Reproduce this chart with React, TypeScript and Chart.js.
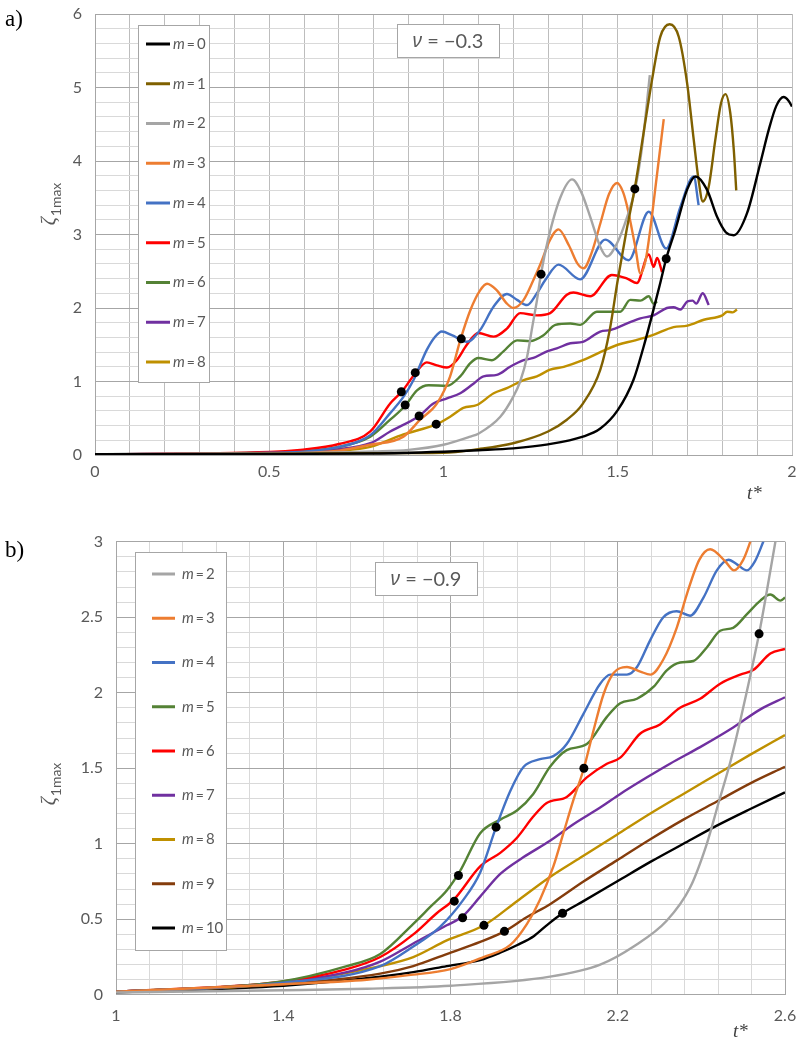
import { useEffect, useRef } from 'react';
import { Chart, registerables } from 'chart.js';

Chart.register(...registerables);

type Pt = [number, number];

// ---------------- Panel a) nu = -0.3 ----------------
const A_NAMES = ['0', '1', '2', '3', '4', '5', '6', '7', '8'];
const A_COLORS = ['#000000', '#7f6000', '#a5a5a5', '#ed7d31', '#4472c4', '#ff0000', '#548235', '#7030a0', '#bf9000'];

const A_M0: Pt[] = [[0,0.01],[0.5,0.015],[0.8,0.02],[1.0,0.045],[1.1,0.065],[1.2,0.09],[1.3,0.145],[1.4,0.25],[1.45,0.36],[1.5,0.61],[1.545,1.02],[1.574,1.47],[1.6,1.93],[1.622,2.34],[1.639,2.67],[1.665,3.06],[1.699,3.61],[1.723,3.79],[1.756,3.61],[1.785,3.24],[1.81,3.03],[1.833,2.99],[1.871,3.29],[1.909,3.97],[1.933,4.42],[1.955,4.75],[1.976,4.87],[1.99,4.82],[2.0,4.74]];
const A_M1: Pt[] = [[0,0.01],[0.5,0.015],[0.8,0.025],[1.0,0.03],[1.1,0.08],[1.2,0.16],[1.3,0.32],[1.354,0.48],[1.4,0.7],[1.45,1.16],[1.477,1.7],[1.5,2.38],[1.525,3.05],[1.55,3.66],[1.574,4.38],[1.6,5.15],[1.622,5.69],[1.649,5.86],[1.675,5.69],[1.699,5.06],[1.718,4.29],[1.732,3.74],[1.744,3.45],[1.761,3.65],[1.78,4.29],[1.796,4.78],[1.809,4.91],[1.823,4.65],[1.833,4.15],[1.84,3.6]];
const A_M2: Pt[] = [[0,0.01],[0.5,0.02],[0.8,0.05],[0.9,0.07],[1.0,0.14],[1.077,0.25],[1.1,0.29],[1.163,0.52],[1.2,0.79],[1.22,1.0],[1.24,1.34],[1.255,1.75],[1.268,2.1],[1.28,2.47],[1.3,2.93],[1.335,3.5],[1.369,3.75],[1.395,3.58],[1.421,3.24],[1.45,2.83],[1.469,2.7],[1.498,2.88],[1.527,3.24],[1.55,3.62],[1.57,4.2],[1.592,5.17]];
const A_M3: Pt[] = [[0,0.01],[0.5,0.02],[0.7,0.06],[0.79,0.14],[0.885,0.25],[0.933,0.48],[0.981,0.7],[1.019,1.07],[1.048,1.56],[1.077,1.97],[1.105,2.24],[1.125,2.33],[1.153,2.24],[1.182,2.06],[1.201,2.0],[1.23,2.11],[1.258,2.38],[1.28,2.62],[1.305,2.92],[1.33,3.07],[1.36,2.85],[1.385,2.6],[1.402,2.54],[1.425,2.75],[1.45,3.15],[1.475,3.55],[1.498,3.7],[1.515,3.58],[1.527,3.38],[1.55,2.84],[1.565,2.47],[1.58,2.65],[1.593,3.06],[1.613,3.83],[1.632,4.57]];
const A_M4: Pt[] = [[0,0.01],[0.5,0.03],[0.6,0.045],[0.7,0.11],[0.79,0.27],[0.847,0.57],[0.885,0.79],[0.914,1.02],[0.952,1.43],[0.976,1.61],[0.995,1.68],[1.024,1.63],[1.067,1.54],[1.105,1.7],[1.144,2.02],[1.182,2.19],[1.211,2.11],[1.24,2.04],[1.268,2.2],[1.292,2.38],[1.33,2.59],[1.392,2.39],[1.464,2.93],[1.531,2.65],[1.589,3.31],[1.639,2.81],[1.68,3.38],[1.718,3.79],[1.732,3.4]];
const A_M5: Pt[] = [[0,0.01],[0.5,0.04],[0.589,0.07],[0.7,0.15],[0.79,0.32],[0.847,0.7],[0.88,0.86],[0.919,1.11],[0.952,1.26],[0.981,1.22],[1.01,1.19],[1.038,1.29],[1.067,1.5],[1.1,1.66],[1.144,1.61],[1.182,1.72],[1.22,1.93],[1.268,1.9],[1.306,1.93],[1.354,2.18],[1.373,2.21],[1.421,2.16],[1.483,2.45],[1.527,2.4],[1.555,2.34],[1.589,2.73],[1.603,2.56],[1.613,2.68],[1.627,2.49]];
const A_M6: Pt[] = [[0,0.01],[0.5,0.035],[0.7,0.11],[0.79,0.25],[0.847,0.48],[0.89,0.67],[0.924,0.88],[0.957,0.95],[1.01,0.94],[1.048,1.07],[1.077,1.25],[1.1,1.32],[1.139,1.29],[1.172,1.41],[1.211,1.56],[1.249,1.55],[1.287,1.63],[1.321,1.77],[1.364,1.79],[1.392,1.77],[1.44,1.95],[1.507,1.95],[1.536,2.11],[1.565,2.1],[1.589,2.16],[1.603,2.06],[1.613,2.09]];
const A_M7: Pt[] = [[0,0.01],[0.5,0.03],[0.7,0.08],[0.79,0.16],[0.847,0.32],[0.93,0.53],[0.971,0.7],[1.01,0.77],[1.048,0.84],[1.086,0.97],[1.115,1.07],[1.153,1.09],[1.191,1.2],[1.23,1.29],[1.258,1.32],[1.297,1.41],[1.325,1.45],[1.364,1.52],[1.4,1.54],[1.45,1.68],[1.479,1.7],[1.527,1.79],[1.565,1.86],[1.603,1.9],[1.641,2.0],[1.66,2.01],[1.68,1.98],[1.7,2.09],[1.715,2.1],[1.725,2.06],[1.744,2.2],[1.761,2.04]];
const A_M8: Pt[] = [[0,0.01],[0.5,0.025],[0.7,0.06],[0.79,0.11],[0.885,0.28],[0.981,0.42],[1.019,0.52],[1.057,0.64],[1.096,0.68],[1.144,0.84],[1.182,0.91],[1.23,1.02],[1.268,1.07],[1.306,1.16],[1.345,1.2],[1.4,1.29],[1.45,1.4],[1.5,1.5],[1.55,1.56],[1.6,1.63],[1.66,1.74],[1.7,1.76],[1.747,1.84],[1.8,1.9],[1.814,1.95],[1.83,1.94],[1.842,1.98]];
const A_SERIES: Pt[][] = [A_M0, A_M1, A_M2, A_M3, A_M4, A_M5, A_M6, A_M7, A_M8];
const A_MARKERS: Pt[] = [[0.879,0.86],[0.89,0.68],[0.919,1.12],[0.93,0.53],[0.979,0.42],[1.051,1.58],[1.28,2.46],[1.549,3.62],[1.639,2.67]];
const A_X_TICKS = [0, 0.5, 1, 1.5, 2];
const A_X_LABELS = ['0', '0.5', '1', '1.5', '2'];
const A_Y_TICKS = [0, 1, 2, 3, 4, 5, 6];
const A_Y_LABELS = ['0', '1', '2', '3', '4', '5', '6'];

// ---------------- Panel b) nu = -0.9 ----------------
const B_NAMES = ['2', '3', '4', '5', '6', '7', '8', '9', '10'];
const B_COLORS = ['#a5a5a5', '#ed7d31', '#4472c4', '#548235', '#ff0000', '#7030a0', '#bf9000', '#843c0c', '#000000'];

const B_M2: Pt[] = [[1.0,0.015],[1.4,0.03],[1.6,0.04],[1.8,0.06],[2.038,0.12],[2.158,0.2],[2.238,0.32],[2.317,0.49],[2.373,0.71],[2.413,1.0],[2.441,1.27],[2.47,1.55],[2.5,1.9],[2.538,2.39],[2.557,2.68],[2.577,3.0],[2.595,3.3]];
const B_M3: Pt[] = [[1.0,0.02],[1.4,0.07],[1.6,0.1],[1.7,0.13],[1.8,0.17],[1.879,0.25],[1.943,0.33],[1.983,0.47],[2.014,0.63],[2.046,0.85],[2.07,1.07],[2.094,1.29],[2.119,1.5],[2.142,1.75],[2.166,1.99],[2.19,2.13],[2.222,2.17],[2.254,2.14],[2.278,2.12],[2.309,2.22],[2.341,2.43],[2.365,2.65],[2.395,2.88],[2.421,2.95],[2.457,2.87],[2.478,2.81],[2.5,2.88],[2.517,3.0],[2.535,3.15]];
const B_M4: Pt[] = [[1.0,0.02],[1.4,0.08],[1.632,0.19],[1.711,0.32],[1.775,0.45],[1.831,0.63],[1.871,0.81],[1.909,1.11],[1.943,1.35],[1.975,1.51],[2.014,1.56],[2.046,1.58],[2.078,1.66],[2.118,1.86],[2.158,2.06],[2.182,2.12],[2.222,2.12],[2.246,2.17],[2.278,2.35],[2.309,2.5],[2.341,2.54],[2.373,2.51],[2.405,2.63],[2.437,2.81],[2.465,2.88],[2.485,2.85],[2.509,2.81],[2.528,2.87],[2.548,3.0],[2.565,3.12]];
const B_M5: Pt[] = [[1.0,0.02],[1.392,0.087],[1.552,0.19],[1.632,0.27],[1.711,0.47],[1.751,0.58],[1.791,0.69],[1.823,0.82],[1.871,1.07],[1.919,1.16],[1.959,1.22],[1.998,1.33],[2.038,1.51],[2.078,1.62],[2.126,1.66],[2.174,1.84],[2.206,1.93],[2.246,1.96],[2.286,2.04],[2.318,2.15],[2.349,2.2],[2.381,2.21],[2.413,2.3],[2.445,2.41],[2.476,2.43],[2.509,2.52],[2.541,2.61],[2.565,2.65],[2.589,2.61],[2.6,2.63]];
const B_M6: Pt[] = [[1.0,0.02],[1.392,0.085],[1.552,0.17],[1.632,0.25],[1.711,0.4],[1.767,0.54],[1.808,0.63],[1.871,0.85],[1.919,0.94],[1.959,1.04],[1.998,1.18],[2.03,1.27],[2.078,1.31],[2.126,1.44],[2.174,1.53],[2.206,1.57],[2.254,1.73],[2.301,1.79],[2.349,1.9],[2.397,1.96],[2.445,2.06],[2.493,2.12],[2.524,2.15],[2.565,2.26],[2.6,2.29]];
const B_M7: Pt[] = [[1.0,0.02],[1.392,0.08],[1.552,0.15],[1.632,0.22],[1.711,0.34],[1.791,0.46],[1.829,0.52],[1.871,0.65],[1.919,0.8],[1.974,0.91],[2.038,1.02],[2.094,1.13],[2.158,1.24],[2.206,1.33],[2.27,1.44],[2.325,1.53],[2.397,1.64],[2.476,1.77],[2.541,1.89],[2.6,1.97]];
const B_M8: Pt[] = [[1.0,0.02],[1.392,0.076],[1.632,0.19],[1.711,0.25],[1.791,0.36],[1.88,0.46],[1.959,0.62],[2.038,0.78],[2.118,0.92],[2.198,1.06],[2.278,1.2],[2.357,1.33],[2.437,1.46],[2.517,1.59],[2.6,1.72]];
const B_M9: Pt[] = [[1.0,0.02],[1.4,0.07],[1.632,0.14],[1.711,0.19],[1.791,0.27],[1.871,0.35],[1.929,0.42],[1.98,0.51],[2.038,0.6],[2.118,0.75],[2.198,0.89],[2.278,1.03],[2.357,1.16],[2.437,1.28],[2.517,1.4],[2.6,1.51]];
const B_M10: Pt[] = [[1.0,0.015],[1.4,0.06],[1.632,0.12],[1.711,0.15],[1.791,0.19],[1.871,0.23],[1.92,0.28],[1.96,0.33],[2.0,0.39],[2.03,0.46],[2.068,0.54],[2.118,0.62],[2.198,0.75],[2.278,0.88],[2.357,1.0],[2.437,1.12],[2.517,1.23],[2.6,1.34]];
const B_SERIES: Pt[][] = [B_M2, B_M3, B_M4, B_M5, B_M6, B_M7, B_M8, B_M9, B_M10];
const B_MARKERS: Pt[] = [[1.809,0.62],[1.819,0.79],[1.829,0.51],[1.88,0.46],[1.909,1.11],[1.929,0.42],[2.068,0.54],[2.119,1.5],[2.538,2.39]];
const B_X_TICKS = [1, 1.4, 1.8, 2.2, 2.6];
const B_X_LABELS = ['1', '1.4', '1.8', '2.2', '2.6'];
const B_Y_TICKS = [0, 0.5, 1, 1.5, 2, 2.5, 3];
const B_Y_LABELS = ['0', '0.5', '1', '1.5', '2', '2.5', '3'];

// ---------------- rendering helpers ----------------
const SANS = '"Lato", "Noto Sans", "DejaVu Sans", sans-serif';
const TEXT = '#595959';
const MAJOR = '#a6a6a6';
const MINOR = '#d9d9d9';

interface Panel {
  names: string[]; colors: string[]; series: Pt[][]; markers: Pt[];
  xMin: number; xMax: number; xStep: number; xTicks: number[]; xLabels: string[];
  yMin: number; yMax: number; yStep: number; yTicks: number[]; yLabels: string[];
  xGridAllMajor: boolean;
  height: number; padTop: number; padRight: number; yAxisW: number; xAxisH: number;
  xPad: number; yPad: number;
  letter: string; letterX: number; letterY: number;
  legend: { x: number; y: number; w: number; h: number; row0: number; gap: number; l0: number; l1: number; tx: number };
  note: { x: number; y: number; w: number; h: number; value: string };
  tStar: { x: number; y: number };
  yTitle: { x: number; y: number };
}

function gridValues(min: number, max: number, step: number): number[] {
  const n = Math.round((max - min) / step);
  const out: number[] = [];
  for (let i = 0; i <= n; i++) out.push(+(min + i * step).toFixed(4));
  return out;
}
const near = (a: number, b: number) => Math.abs(a - b) < 1e-6;

function makeDecor(p: Panel) {
  return {
    id: 'decor',
    afterDraw(chart: any) {
      const ctx: CanvasRenderingContext2D = chart.ctx;
      ctx.save();
      ctx.textAlign = 'left';
      ctx.textBaseline = 'alphabetic';
      // panel letter
      ctx.fillStyle = '#000';
      ctx.font = '23px "Liberation Serif", serif';
      ctx.fillText(p.letter, p.letterX, p.letterY);

      // legend
      const L = p.legend;
      ctx.fillStyle = '#ffffff';
      ctx.fillRect(L.x, L.y, L.w, L.h);
      ctx.strokeStyle = '#a6a6a6';
      ctx.lineWidth = 1;
      ctx.strokeRect(L.x + 0.5, L.y + 0.5, L.w, L.h);
      p.names.forEach((n, i) => {
        const yy = L.row0 + i * L.gap;
        ctx.strokeStyle = p.colors[i];
        ctx.lineWidth = 3;
        ctx.beginPath();
        ctx.moveTo(L.l0, yy);
        ctx.lineTo(L.l1, yy);
        ctx.stroke();
        ctx.fillStyle = TEXT;
        ctx.textBaseline = 'middle';
        ctx.font = `italic 15px ${SANS}`;
        ctx.fillText('m', L.tx, yy);
        let x = L.tx + ctx.measureText('m').width + 2;
        ctx.font = `14px ${SANS}`;
        ctx.fillText('=', x, yy);
        x += ctx.measureText('=').width + 2;
        ctx.font = `15px ${SANS}`;
        ctx.fillText(n, x, yy);
      });

      // nu box
      const N = p.note;
      ctx.fillStyle = '#ffffff';
      ctx.fillRect(N.x, N.y, N.w, N.h);
      ctx.strokeStyle = '#a6a6a6';
      ctx.lineWidth = 1;
      ctx.strokeRect(N.x + 0.5, N.y + 0.5, N.w, N.h);
      ctx.fillStyle = TEXT;
      ctx.textBaseline = 'middle';
      const f1 = 'italic 20px "Noto Sans", "DejaVu Sans", sans-serif';
      const f2 = `20px ${SANS}`;
      ctx.font = f1;
      const w1 = ctx.measureText('ν').width;
      ctx.font = f2;
      const rest = ' = \u2212' + N.value;
      const w2 = ctx.measureText(rest).width;
      const sx = N.x + (N.w - w1 - w2) / 2;
      const cy = N.y + N.h / 2 + 1;
      ctx.font = f1;
      ctx.fillText('ν', sx, cy);
      ctx.font = f2;
      ctx.fillText(rest, sx + w1, cy);

      // t* axis title
      ctx.textBaseline = 'alphabetic';
      ctx.fillStyle = '#404040';
      ctx.font = 'italic 19px "Liberation Serif", serif';
      ctx.fillText('t*', p.tStar.x, p.tStar.y);

      // zeta_1max axis title (rotated)
      ctx.save();
      ctx.translate(p.yTitle.x, p.yTitle.y);
      ctx.rotate(-Math.PI / 2);
      const zf = 'italic 20px "Liberation Serif", serif';
      const sf = `14px ${SANS}`;
      ctx.font = zf;
      const zw = ctx.measureText('ζ').width;
      ctx.font = sf;
      const sw = ctx.measureText('1max').width;
      const start = -(zw + sw + 1) / 2;
      ctx.fillStyle = TEXT;
      ctx.font = zf;
      ctx.fillText('ζ', start, 0);
      ctx.font = sf;
      ctx.fillText('1max', start + zw + 1, 6);
      ctx.restore();

      ctx.restore();
    },
  };
}

function buildConfig(p: Panel): any {
  const datasets: any[] = [
    {
      label: 'markers',
      data: p.markers.map(([x, y]) => ({ x, y })),
      showLine: false,
      pointRadius: 4.5,
      pointBackgroundColor: '#000',
      pointBorderColor: '#000',
      pointBorderWidth: 0,
      order: -1,
    },
  ];
  p.series.forEach((s, i) =>
    datasets.push({
      label: 'm=' + p.names[i],
      data: s.map(([x, y]) => ({ x, y })),
      borderColor: p.colors[i],
      backgroundColor: p.colors[i],
      borderWidth: 2.4,
      pointRadius: 0,
      cubicInterpolationMode: 'monotone',
      fill: false,
      order: i,
    }),
  );
  const xGrid = gridValues(p.xMin, p.xMax, p.xStep);
  const yGrid = gridValues(p.yMin, p.yMax, p.yStep);
  return {
    type: 'line',
    data: { datasets },
    options: {
      animation: false,
      responsive: false,
      maintainAspectRatio: false,
      events: [],
      layout: { padding: { top: p.padTop, right: p.padRight, left: 0, bottom: 0 } },
      plugins: { legend: { display: false }, tooltip: { enabled: false } },
      scales: {
        x: {
          type: 'linear',
          min: p.xMin,
          max: p.xMax,
          afterBuildTicks: (s: any) => { s.ticks = xGrid.map((v) => ({ value: v })); },
          afterFit: (s: any) => {
            s.height = p.xAxisH;
            s.paddingLeft = 0; s.paddingRight = 0; s.paddingTop = 0; s.paddingBottom = 0;
          },
          grid: {
            drawTicks: false,
            lineWidth: 1,
            color: (c: any) => {
              const v = c.tick ? c.tick.value : 0;
              if (p.xGridAllMajor) return '#bdbdbd';
              return p.xTicks.some((m) => near(m, v)) ? MAJOR : MINOR;
            },
          },
          border: { color: MAJOR, width: 1 },
          ticks: {
            autoSkip: false,
            maxRotation: 0,
            padding: p.xPad,
            color: TEXT,
            font: { family: SANS, size: 16 },
            callback: (v: number) => {
              const i = p.xTicks.findIndex((m) => near(m, v));
              return i >= 0 ? p.xLabels[i] : '';
            },
          },
        },
        y: {
          type: 'linear',
          min: p.yMin,
          max: p.yMax,
          afterBuildTicks: (s: any) => { s.ticks = yGrid.map((v) => ({ value: v })); },
          afterFit: (s: any) => {
            s.width = p.yAxisW;
            s.paddingLeft = 0; s.paddingRight = 0; s.paddingTop = 0; s.paddingBottom = 0;
          },
          grid: {
            drawTicks: false,
            lineWidth: 1,
            color: (c: any) => {
              const v = c.tick ? c.tick.value : 0;
              return p.yTicks.some((m) => near(m, v)) ? MAJOR : MINOR;
            },
          },
          border: { color: MAJOR, width: 1 },
          ticks: {
            autoSkip: false,
            padding: p.yPad,
            color: TEXT,
            font: { family: SANS, size: 16 },
            callback: (v: number) => {
              const i = p.yTicks.findIndex((m) => near(m, v));
              return i >= 0 ? p.yLabels[i] : '';
            },
          },
        },
      },
    },
    plugins: [makeDecor(p)],
  };
}

const PANEL_A: Panel = {
  names: A_NAMES, colors: A_COLORS, series: A_SERIES, markers: A_MARKERS,
  xMin: 0, xMax: 2, xStep: 0.1, xTicks: A_X_TICKS, xLabels: A_X_LABELS,
  yMin: 0, yMax: 6, yStep: 0.2, yTicks: A_Y_TICKS, yLabels: A_Y_LABELS,
  xGridAllMajor: true,
  height: 520, padTop: 14, padRight: 5, yAxisW: 95, xAxisH: 65, xPad: 7, yPad: 13,
  letter: 'a)', letterX: 5, letterY: 26,
  legend: { x: 138, y: 25, w: 71, h: 357, row0: 44, gap: 39.75, l0: 146, l1: 170, tx: 173 },
  note: { x: 397, y: 24, w: 102, h: 33, value: '0.3' },
  tStar: { x: 747, y: 499 },
  yTitle: { x: 55, y: 204 },
};

const PANEL_B: Panel = {
  names: B_NAMES, colors: B_COLORS, series: B_SERIES, markers: B_MARKERS,
  xMin: 1, xMax: 2.6, xStep: 0.08, xTicks: B_X_TICKS, xLabels: B_X_LABELS,
  yMin: 0, yMax: 3, yStep: 0.1, yTicks: B_Y_TICKS, yLabels: B_Y_LABELS,
  xGridAllMajor: false,
  height: 521, padTop: 21.7, padRight: 12, yAxisW: 116, xAxisH: 46.2, xPad: 11, yPad: 13,
  letter: 'b)', letterX: 5, letterY: 37,
  legend: { x: 135, y: 32, w: 91, h: 398, row0: 54, gap: 44.25, l0: 152, l1: 175, tx: 182 },
  note: { x: 375, y: 42, w: 102, h: 33, value: '0.9' },
  tStar: { x: 733, y: 517 },
  yTitle: { x: 55, y: 264 },
};

function ChartPanel({ panel, top }: { panel: Panel; top: number }) {
  const ref = useRef<HTMLCanvasElement | null>(null);
  useEffect(() => {
    if (!ref.current) return;
    const chart = new Chart(ref.current, buildConfig(panel));
    return () => chart.destroy();
  }, [panel]);
  return (
    <canvas
      ref={ref}
      width={797}
      height={panel.height}
      style={{ position: 'absolute', left: 0, top, width: 797, height: panel.height, display: 'block' }}
    />
  );
}

export default function App() {
  return (
    <div style={{ position: 'absolute', left: 0, top: 0, width: 797, height: 1041, background: '#fff', overflow: 'hidden' }}>
      <ChartPanel panel={PANEL_A} top={0} />
      <ChartPanel panel={PANEL_B} top={520} />
    </div>
  );
}
